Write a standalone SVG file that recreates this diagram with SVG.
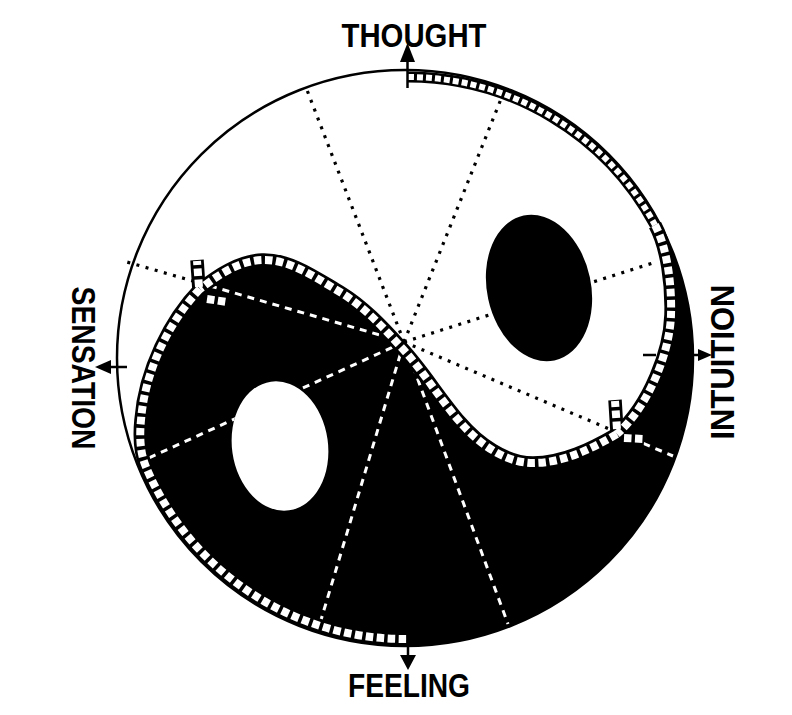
<svg xmlns="http://www.w3.org/2000/svg" width="792" height="715" viewBox="0 0 792 715">
<style>
.band{fill:none;stroke:#000;stroke-width:13.5;stroke-linejoin:round}
.holes{fill:none;stroke:#fff;stroke-width:8;stroke-dasharray:7.5 3.5}
.band-t{fill:none;stroke:#000;stroke-width:11}
.holes-t{fill:none;stroke:#fff;stroke-width:6;stroke-dasharray:6 3}
.dots{fill:none;stroke:#000;stroke-width:3.2;stroke-dasharray:3 6.5}
.dash{fill:none;stroke:#fff;stroke-width:3;stroke-dasharray:7 6}
.lab{font-family:"Liberation Sans",Arial,sans-serif;font-weight:bold;font-size:33px;fill:#000}
.arr{stroke:#000;stroke-width:2.5;fill:none}
</style>
<defs>
<mask id="blackMask" maskUnits="userSpaceOnUse" x="0" y="0" width="792" height="715">
<rect width="792" height="715" fill="#000"/>
<path fill="#fff" d="M200,289 C170,320 145,370 141,420 C139,440 141,455 146,467 L140,470 A288,288 0 0 0 405,646 A288,288 0 0 0 668,240 L655,225 C667,247 672,285 671,315 C670,350 650,405 617,434 C591,449 563,463 533,463 C505,463 478,443 460,422 C439,398 422,369 400,346 C382,326 363,306 340,292 C316,278 290,259 262,260 C239,261 218,275 200,289 Z"/>
<ellipse fill="#000" cx="280" cy="446" rx="48" ry="65" transform="rotate(-8 280 446)"/>
</mask>
</defs>
<rect width="792" height="715" fill="#fff"/>
<g id="regions">
<path id="yin" fill="#000" d="M200,289 C170,320 145,370 141,420 C139,440 141,455 146,467 L140,470 A288,288 0 0 0 405,646 A288,288 0 0 0 668,240 L655,225 C667,247 672,285 671,315 C670,350 650,405 617,434 C591,449 563,463 533,463 C505,463 478,443 460,422 C439,398 422,369 400,346 C382,326 363,306 340,292 C316,278 290,259 262,260 C239,261 218,275 200,289 Z"/>
<ellipse id="light-eye" fill="#fff" cx="280" cy="446" rx="48" ry="65" transform="rotate(-8 280 446)"/>
</g>
<g id="connectors">
<g id="radials-dotted">
<line class="dots" x1="404" y1="342" x2="307" y2="90"/>
<line class="dots" x1="404" y1="342" x2="501" y2="99"/>
<line class="dots" x1="404" y1="342" x2="656" y2="262"/>
<line class="dots" x1="404" y1="342" x2="673" y2="456"/>
<line class="dots" x1="404" y1="342" x2="127" y2="262"/>
</g>
<g id="radials-dashed" mask="url(#blackMask)">
<line class="dash" x1="404" y1="342" x2="673" y2="456"/>
<line class="dash" x1="404" y1="342" x2="127" y2="262"/>
<line class="dash" x1="404" y1="342" x2="140" y2="462"/>
<line class="dash" x1="404" y1="342" x2="318" y2="630"/>
<line class="dash" x1="404" y1="342" x2="508" y2="624"/>
</g>
</g>
<ellipse id="dark-eye" fill="#000" cx="539" cy="288" rx="52" ry="74" transform="rotate(-12 539 288)"/>
<circle id="rim" cx="405" cy="358" r="288" fill="none" stroke="#000" stroke-width="2.5"/>
<g id="track">
<path class="band-t" d="M408,77 A281,281 0 0 1 655,225"/>
<path class="band" d="M655,225 C667,247 672,285 671,315 C670,350 650,405 617,434"/>
<path class="band" d="M617,434 C591,449 563,463 533,463 C505,463 478,443 460,422 C439,398 422,369 400,346 C382,326 363,306 340,292 C316,278 290,259 262,260 C239,261 218,275 200,289"/>
<path class="band" d="M200,289 C170,320 145,370 141,420 C139,440 141,455 146,467 A281,281 0 0 0 408,639"/>
<path class="band" d="M199,290 L197,260"/>
<path class="band" d="M204,299 L227,302"/>
<path class="band" d="M617,432 L615,400"/>
<path class="band" d="M621,438 L644,439"/>
<path class="holes-t" d="M408,77 A281,281 0 0 1 655,225"/>
<path class="holes" d="M655,225 C667,247 672,285 671,315 C670,350 650,405 617,434"/>
<path class="holes" d="M617,434 C591,449 563,463 533,463 C505,463 478,443 460,422 C439,398 422,369 400,346 C382,326 363,306 340,292 C316,278 290,259 262,260 C239,261 218,275 200,289"/>
<path class="holes" d="M200,289 C170,320 145,370 141,420 C139,440 141,455 146,467 A281,281 0 0 0 408,639"/>
<path class="holes" d="M199,287 L197,261"/>
<path class="holes" d="M207,299 L227,302"/>
<path class="holes" d="M617,429 L615,401"/>
<path class="holes" d="M624,438 L644,439"/>
</g>
<g id="thought">
<line class="arr" x1="407.5" y1="60" x2="407.5" y2="88"/>
<polygon points="400,62 415,62 407.5,43" fill="#000"/>
<text class="lab" x="414" y="47" text-anchor="middle" textLength="145" lengthAdjust="spacingAndGlyphs">THOUGHT</text>
</g>
<g id="feeling">
<line class="arr" x1="408" y1="640" x2="408" y2="657"/>
<polygon points="400,655 416,655 408,670" fill="#000"/>
<text class="lab" x="409" y="697" text-anchor="middle" textLength="122" lengthAdjust="spacingAndGlyphs">FEELING</text>
</g>
<g id="sensation">
<line class="arr" x1="109" y1="367" x2="127" y2="367"/>
<polygon points="95,367 111,360 111,374" fill="#000"/>
<text class="lab" transform="translate(72,368) rotate(90)" x="0" y="0" text-anchor="middle" textLength="163" lengthAdjust="spacingAndGlyphs">SENSATION</text>
</g>
<g id="intuition">
<line class="arr" x1="643" y1="355" x2="656" y2="355"/>
<line class="arr" x1="686" y1="355" x2="700" y2="355"/>
<polygon points="712,355 698,349 698,361" fill="#000"/>
<text class="lab" transform="translate(734,362) rotate(-90)" x="0" y="0" text-anchor="middle" textLength="155" lengthAdjust="spacingAndGlyphs">INTUITION</text>
</g>
</svg>
